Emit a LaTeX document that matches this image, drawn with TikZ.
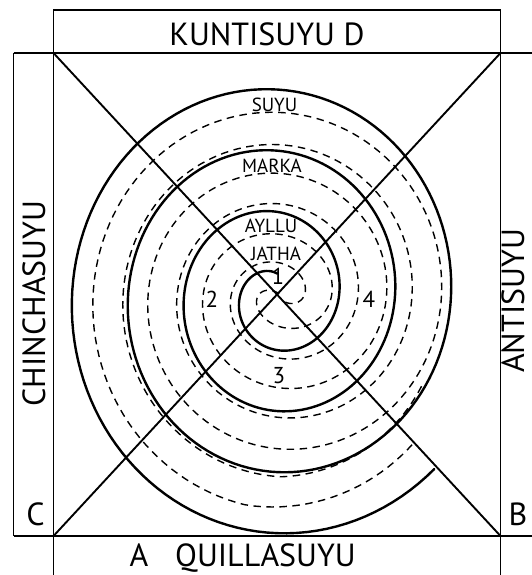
\documentclass[tikz,border=0pt]{standalone}
\usepackage{fontspec}
\setmainfont{PT Sans}
\usetikzlibrary{positioning}
\tikzset{
  frameline/.style={line width=1.9pt},
  spiralline/.style={line width=2.4pt, line cap=round},
  dashline/.style={line width=1.4pt, dash pattern=on 7.5pt off 5.5pt},
  biglabel/.style={font=\fontsize{32}{36}\selectfont, inner sep=0pt, anchor=base},
  ringlabel/.style={font=\fontsize{19}{22}\selectfont, inner sep=0pt, anchor=base},
  numlabel/.style={font=\fontsize{23}{26}\selectfont, inner sep=0pt, anchor=base}
}

\begin{document}
\begin{tikzpicture}[x=1pt, y=-1pt]
    \useasboundingbox (0,0) rectangle (532,575);
    % corners of the square
    \coordinate (nw) at (53.5,53);
    \coordinate (ne) at (500.5,53);
    \coordinate (sw) at (53.5,536);
    \coordinate (se) at (500.5,536);

    % frame and strips
    \draw[frameline] (53.5,575) -- (53.5,10) -- (500.5,10) -- (500.5,575);
    \draw[frameline] (13.5,53) -- (532,53);
    \draw[frameline] (13.5,536) -- (532,536);
    \draw[frameline] (13.5,53) -- (13.5,536);
    \draw[frameline] (nw) -- (se);
    \draw[frameline] (sw) -- (ne);

    % the spiral (angle in degrees, radius grows about 60 per turn)
    \draw[spiralline] plot[domain=85:1395, samples=500, variable=\t]
        ({275.5+(7.5+0.155556*\t)*cos(\t)}, {296-(8+0.169722*\t)*sin(\t)});
    % two dashed spirals in between, both curl in at their ends
    \draw[dashline] plot[domain=-70:1050, samples=450, variable=\t]
        ({281+(1-0.0015*max(0,\t-990))*(23+0.15*\t)*cos(\t)},
         {296-(1-0.0015*max(0,\t-990))*(18+0.164444*\t)*sin(\t)});
    \draw[dashline] plot[domain=100:1394, samples=500, variable=\t]
        ({281+(1-0.0015*max(0,\t-1340))*(-4.5+0.152778*\t)*cos(\t)},
         {296-(1-0.0015*max(0,\t-1340))*(-14.75+0.169444*\t)*sin(\t)});

    % suyu names
    \node[biglabel] (kunti) at (267,46) {KUNTISUYU D};
    \node[biglabel, rotate=90] (chincha) at (45,303.5) {CHINCHASUYU};
    \node[biglabel, rotate=90] (anti) at (524,301) {ANTISUYU};
    \node[biglabel] (cpt) at (35.5,525) {C};
    \node[biglabel] (bpt) at (518,525) {B};
    \node[biglabel] (apt) at (139,566) {A};
    \node[biglabel] (quilla) at (265.5,566) {QUILLASUYU};

    % rings
    \node[ringlabel] (suyu) at (274.5,111) {SUYU};
    \node[ringlabel] (marka) at (272,172) {MARKA};
    \node[ringlabel] (ayllu) at (271,232) {AYLLU};
    \node[ringlabel] (jatha) at (276,260) {JATHA};

    \node[numlabel] (one) at (278,284) {1};
    \node[numlabel] (two) at (212,307) {2};
    \node[numlabel] (three) at (279,383) {3};
    \node[numlabel] (four) at (369,307) {4};
\end{tikzpicture}
\end{document}
